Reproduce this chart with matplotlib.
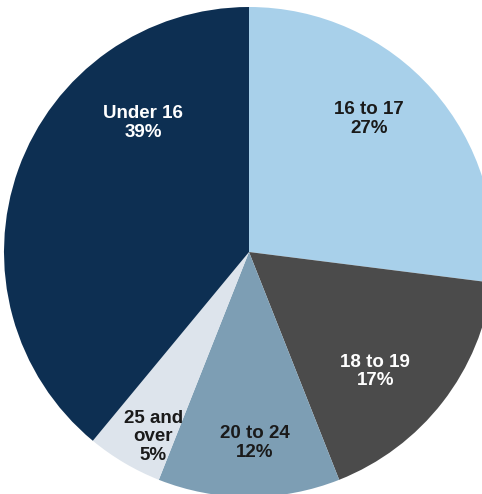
import numpy as np
import matplotlib.pyplot as plt

labels = ["16 to 17", "18 to 19", "20 to 24", "25 and\nover", "Under 16"]
shares = [27, 17, 12, 5, 39]
colors = ["#a8d0ea", "#4b4b4b", "#7d9eb4", "#dde4ec", "#0d2f52"]
text_colors = ["#1a1a1a", "white", "#1a1a1a", "#1a1a1a", "white"]

# label placement (polar, degrees / fraction of radius) picked by eye
label_ang = [48, -43.4, -88.2, -117.4, 129.4]
label_rad = [0.73, 0.71, 0.78, 0.85, 0.68]

W, H = 482, 494
cx, cy, R = 249, H - 252, 245

fig = plt.figure(figsize=(W / 100, H / 100), dpi=100)
ax = fig.add_axes([0, 0, 1, 1])
ax.pie(shares, colors=colors, startangle=90, counterclock=False,
       radius=R, center=(cx, cy), wedgeprops=dict(linewidth=0))
ax.set_xlim(0, W)
ax.set_ylim(0, H)
ax.set_aspect("equal")
ax.axis("off")

for lab, val, a, r, tc in zip(labels, shares, label_ang, label_rad, text_colors):
    t = np.deg2rad(a)
    x = cx + r * R * np.cos(t)
    y = cy + r * R * np.sin(t)
    ax.text(x, y, f"{lab}\n{val}%", ha="center", va="center", color=tc,
            fontsize=13.5, fontweight="bold", family="Liberation Sans",
            linespacing=1.12)

fig.savefig("out.png", dpi=100)
